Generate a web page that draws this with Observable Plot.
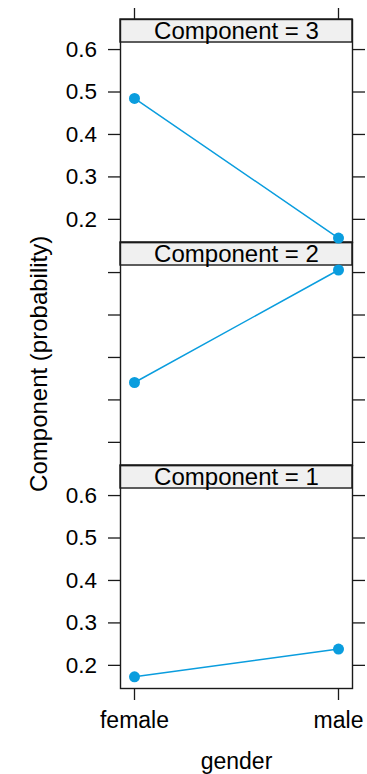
<!DOCTYPE html>
<html>
<head>
<meta charset="utf-8">
<script src="https://cdn.jsdelivr.net/npm/d3@7"></script>
<script src="https://cdn.jsdelivr.net/npm/@observablehq/plot@0.6"></script>
<style>
  html, body { margin: 0; padding: 0; background: #fff; }
  #chart svg { display: block; }
</style>
</head>
<body>
<div id="chart"></div>
<script>
// ---- data ----
const gender = ["female", "male"];
const components = ["3", "2", "1"];          // top to bottom
const comp1 = [0.173, 0.2385];
const comp2 = [0.341, 0.606];
const comp3 = [0.485, 0.156];
const yTicks = [0.2, 0.3, 0.4, 0.5, 0.6];
const labelledPanels = ["3", "1"];
const stripLabel = "Component";
const xTitle = "gender";
const yTitle = "Component (probability)";

// panel limits (y) and strip band above the panel
const yLo = 0.1455, yPanelHi = 0.6166, yHi = 0.6708;
const stripMid = (yPanelHi + yHi) / 2;
const yTitleAt = 0.385;   // vertical centre of the y title, in the middle panel

const seriesByComp = { "1": comp1, "2": comp2, "3": comp3 };
const rows = components.flatMap(c => gender.map((g, i) => ({ comp: c, gender: g, value: seriesByComp[c][i] })));
const tickRows = labelledPanels.flatMap(c => yTicks.map(v => ({ comp: c, v })));

const color = "#0A9DDE";
const ink = "#1a1a1a";
const font = "'Liberation Sans', Arial, Helvetica, sans-serif";

const chart = Plot.plot({
  width: 367,
  height: 774,
  marginTop: 19,
  marginBottom: 86,
  marginLeft: 120,
  marginRight: 15,
  style: { fontFamily: font, fontSize: "23px", color: "#000", background: "#fff", overflow: "visible" },
  x: { type: "point", domain: gender, padding: 0.0686, axis: null },
  y: { domain: [yLo, yHi], axis: null },
  fy: { domain: components, padding: 0, axis: null },
  marks: [
    // strips
    Plot.rect(components, { fy: d => d, y1: () => yPanelHi, y2: () => yHi, fill: "#f0f0f0", stroke: ink, strokeWidth: 1.4 }),
    Plot.text(components, { fy: d => d, y: () => stripMid, text: d => `${stripLabel} = ${d}`, fontSize: 24, fill: "#000" }),
    // panel frame
    Plot.frame({ stroke: ink, strokeWidth: 1.4 }),
    // y ticks left & right
    Plot.axisY({ anchor: "left", ticks: yTicks, tickSize: 12, tickFormat: () => "", label: null, stroke: ink, strokeWidth: 1.3 }),
    Plot.axisY({ anchor: "right", ticks: yTicks, tickSize: 12, tickFormat: () => "", label: null, stroke: ink, strokeWidth: 1.3 }),
    // y tick labels on top & bottom panels
    Plot.text(tickRows, { fy: "comp", y: "v", text: d => d.v.toFixed(1), frameAnchor: "left", textAnchor: "end", dx: -23.5, fontSize: 22.5, fill: "#000" }),
    // x axes
    Plot.axisX({ anchor: "top", tickSize: 12, tickFormat: () => "", label: null, stroke: ink, strokeWidth: 1.3 }),
    Plot.axisX({ anchor: "bottom", tickSize: 12, tickPadding: 11.4, label: null, fontSize: 23, stroke: ink, strokeWidth: 1.3, fill: "#000" }),
    // axis titles
    Plot.text([xTitle], { fy: ["1"], frameAnchor: "bottom", dy: 80, fontSize: 23, fill: "#000" }),
    Plot.text([yTitle], { fy: ["2"], y: () => yTitleAt, frameAnchor: "left", textAnchor: "middle", rotate: -90, dx: -81, fontSize: 24, fill: "#000" }),
    // data
    Plot.line(rows, { fy: "comp", x: "gender", y: "value", stroke: color, strokeWidth: 1.5 }),
    Plot.dot(rows, { fy: "comp", x: "gender", y: "value", r: 5.5, fill: color, stroke: "none" })
  ]
});
document.getElementById("chart").appendChild(chart);
</script>
</body>
</html>
